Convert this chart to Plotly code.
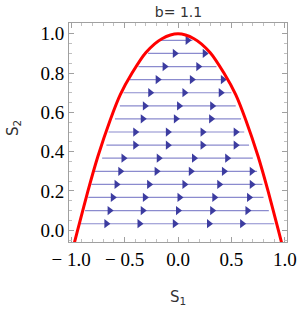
import plotly.graph_objects as go

# boundary curve (right half, mirrored for left)
curve_x = [0.0, 0.15, 0.30, 0.43, 0.54, 0.635, 0.75, 0.845, 0.925, 0.97, 0.985]
curve_y = [1.0, 0.975, 0.905, 0.80, 0.69, 0.56, 0.375, 0.195, 0.03, -0.065, -0.097]

# streamlines: y level, start x, end x, arrow positions
stream_y = [0.967, 0.9, 0.833, 0.767, 0.7, 0.633, 0.567, 0.5, 0.433, 0.367, 0.3, 0.233, 0.167, 0.1, 0.033]
stream_start = [-0.17, -0.28, -0.37, -0.45, -0.51, -0.544, -0.59, -0.65, -0.67, -0.71, -0.78, -0.81, -0.84, -0.87, -0.92]
stream_end = [0.135, 0.27, 0.36, 0.43, 0.50, 0.54, 0.59, 0.62, 0.665, 0.70, 0.74, 0.79, 0.80, 0.85, 0.90]
stream_arrows = [
    [0.09],
    [-0.03, 0.25],
    [-0.125, 0.19],
    [-0.19, 0.13, 0.42],
    [-0.26, 0.06, 0.40],
    [-0.31, 0.01, 0.32],
    [-0.33, -0.02, 0.31],
    [-0.40, -0.095, 0.23, 0.54],
    [-0.40, -0.095, 0.23, 0.54],
    [-0.51, -0.18, 0.15, 0.46],
    [-0.54, -0.20, 0.12, 0.43, 0.69],
    [-0.575, -0.27, 0.06, 0.386, 0.69],
    [-0.61, -0.31, 0.014, 0.34, 0.665],
    [-0.64, -0.33, 0.0, 0.32, 0.65],
    [-0.67, -0.36, -0.03, 0.29, 0.60],
]

x_ticks = [-1.0, -0.5, 0.0, 0.5, 1.0]
x_labels = ["\u2212 1.0", "\u2212 0.5", "0.0", "0.5", "1.0"]
y_ticks = [0.0, 0.2, 0.4, 0.6, 0.8, 1.0]
y_labels = ["0.0", "0.2", "0.4", "0.6", "0.8", "1.0"]

fig = go.Figure()

line_color = "rgba(100,100,190,0.75)"
head_color = "rgb(60,60,160)"

for yv, xs, xe in zip(stream_y, stream_start, stream_end):
    fig.add_trace(go.Scatter(x=[xs, xe], y=[yv, yv], mode="lines",
                             line=dict(color=line_color, width=1.2),
                             hoverinfo="skip", showlegend=False))

ax, ay = [], []
for yv, arr in zip(stream_y, stream_arrows):
    for a in arr:
        ax.append(a)
        ay.append(yv)
fig.add_trace(go.Scatter(x=ax, y=ay, mode="markers",
                         marker=dict(symbol="triangle-right", size=8, color=head_color,
                                     line=dict(width=0)),
                         hoverinfo="skip", showlegend=False))

full_x = [-v for v in curve_x[::-1]] + curve_x[1:]
full_y = curve_y[::-1] + curve_y[1:]
fig.add_trace(go.Scatter(x=full_x, y=full_y, mode="lines", line_shape="spline",
                         line=dict(color="red", width=3, smoothing=0.8),
                         hoverinfo="skip", showlegend=False))

tick_font = dict(family="Liberation Serif", size=19, color="black")
title_font = dict(family="DejaVu Sans", size=15, color="#333333")

axis_common = dict(
    showgrid=False, zeroline=False, showline=True, linecolor="#a0a0a0", linewidth=1,
    mirror="allticks", ticks="inside", ticklen=5, tickcolor="#a0a0a0", tickwidth=1,
    tickfont=tick_font, automargin=False,
)

fig.update_xaxes(range=[-1.02, 1.02], tickvals=x_ticks, ticktext=x_labels,
                 minor=dict(dtick=0.1, ticks="inside", ticklen=3, tickcolor="#c0c0c0"),
                 title=dict(text="S<sub>1</sub>", font=title_font, standoff=22),
                 **axis_common)
fig.update_yaxes(range=[-0.06, 1.055], tickvals=y_ticks, ticktext=y_labels,
                 minor=dict(dtick=0.05, ticks="inside", ticklen=3, tickcolor="#c0c0c0"),
                 **axis_common)

fig.add_annotation(text="S<sub>2</sub>", xref="paper", yref="paper", x=0, y=0.52,
                   xanchor="center", yanchor="middle", xshift=-56, textangle=-90,
                   showarrow=False, font=title_font)

fig.update_layout(
    width=300, height=309,
    margin=dict(l=69, r=13, t=23, b=67, autoexpand=False),
    paper_bgcolor="white", plot_bgcolor="white",
    title=dict(text="b= 1.1", x=0.595, xanchor="center", y=0.962, yanchor="middle",
               font=dict(family="DejaVu Sans", size=14, color="#333333")),
)

fig.write_html("out.html")
